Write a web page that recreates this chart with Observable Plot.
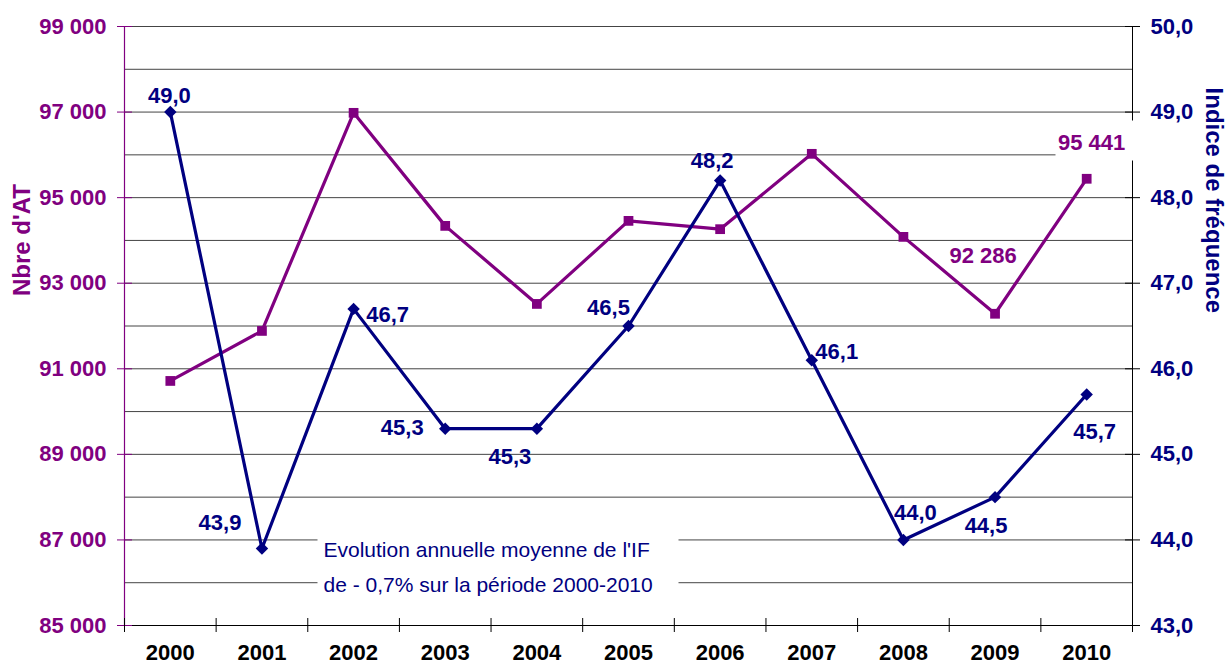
<!DOCTYPE html>
<html>
<head>
<meta charset="utf-8">
<script src="https://cdn.jsdelivr.net/npm/d3@7"></script>
<script src="https://cdn.jsdelivr.net/npm/@observablehq/plot@0.6"></script>
<style>
  html, body { margin: 0; padding: 0; background: #ffffff; }
  #chart svg { display: block; }
</style>
</head>
<body>
<div id="chart"></div>
<script>
// ---- Data ----
const years = [2000, 2001, 2002, 2003, 2004, 2005, 2006, 2007, 2008, 2009, 2010];
const nbreAT = [90716, 91885, 96982, 94340, 92516, 94457, 94263, 96024, 94083, 92286, 95441];
const indiceFrequence = [49.0, 43.9, 46.7, 45.3, 45.3, 46.5, 48.2, 46.1, 44.0, 44.5, 45.7];
const leftTicks = [85000, 87000, 89000, 91000, 93000, 95000, 97000, 99000];
const rightTicks = [43, 44, 45, 46, 47, 48, 49, 50];
const labelledATYears = [2009, 2010];
const noteLines = ["Evolution annuelle moyenne de l'IF", "de - 0,7% sur la période 2000-2010"];
const leftTitle = "Nbre d'AT";
const rightTitle = "Indice de fréquence";

// ---- Layout / style ----
const W = 1227, H = 666;
const mL = 124, mR = 95, mT = 26, mB = 41;
const plotW = W - mL - mR, plotH = H - mT - mB;
const PURPLE = "#800080", NAVY = "#000080";
const FONT = "'Liberation Sans', Arial, sans-serif";
const LBL = 22;

const leftDomain = [leftTicks[0], leftTicks[leftTicks.length - 1]];
const rightDomain = [rightTicks[0], rightTicks[rightTicks.length - 1]];
const toLeft = v => leftDomain[0] + (v - rightDomain[0]) * (leftDomain[1] - leftDomain[0]) / (rightDomain[1] - rightDomain[0]);
const fromLeft = v => rightDomain[0] + (v - leftDomain[0]) * (rightDomain[1] - rightDomain[0]) / (leftDomain[1] - leftDomain[0]);
const fmtAT = v => d3.format(",")(Math.round(v)).replace(/,/g, " ");
const fmtIF = v => v.toFixed(1).replace(".", ",");

const xDomain = [years[0] - 0.5, years[years.length - 1] + 0.5];
const boundaries = d3.range(xDomain[0], xDomain[1] + 0.01, 1);
const gridValues = d3.range(leftDomain[0] + 1000, leftDomain[1] + 1, 1000);

const data = years.map((y, i) => ({year: y, at: nbreAT[i], ifr: indiceFrequence[i]}));

// label offsets (pixels) relative to each point
const navyOffsets = [[-1,-16],[-42,-26],[34,6],[-43,-1],[-27,28],[-20,-18],[-8,-20],[25,-8],[12,-27],[-9,29],[8,37]];
const purpleOffsets = {2009: [-12,-58], 2010: [5,-36]};

const marks = [];
// gridlines
marks.push(Plot.ruleY(gridValues, {stroke: "#444", strokeWidth: 1}));
// axis lines
marks.push(Plot.ruleY([leftDomain[0]], {stroke: "#000", strokeWidth: 1}));
marks.push(Plot.ruleX([xDomain[1]], {stroke: "#000", strokeWidth: 1}));
marks.push(Plot.ruleX([xDomain[0]], {stroke: PURPLE, strokeWidth: 1.2}));
// ticks (crossing)
marks.push(Plot.tickY(leftTicks, {y: d => d, stroke: PURPLE, insetLeft: -7, insetRight: plotW - 8}));
marks.push(Plot.tickY(leftTicks, {y: d => d, stroke: "#000", insetLeft: plotW - 7, insetRight: -8}));
marks.push(Plot.tickX(boundaries, {x: d => d, stroke: "#000", insetTop: plotH - 7, insetBottom: -7}));
// axes text
marks.push(Plot.axisY(leftTicks, {anchor: "left", tickSize: 0, tickPadding: 18, tickFormat: fmtAT,
  fill: PURPLE, fontSize: LBL, fontWeight: "bold", fontFamily: FONT, label: null}));
marks.push(Plot.axisY(rightTicks.map(toLeft), {anchor: "right", tickSize: 0, tickPadding: 18, tickFormat: v => fmtIF(fromLeft(v)),
  fill: NAVY, fontSize: LBL, fontWeight: "bold", fontFamily: FONT, label: null}));
marks.push(Plot.axisX(years, {anchor: "bottom", tickSize: 0, tickPadding: 19, tickFormat: d => String(d),
  fill: "#000", fontSize: LBL, fontWeight: "bold", fontFamily: FONT, label: null}));
// axis titles
marks.push(Plot.text([leftTitle], {frameAnchor: "left", dx: -102, dy: -30, rotate: -90, fill: PURPLE,
  fontSize: 24, fontWeight: "bold", fontFamily: FONT}));
marks.push(Plot.text([rightTitle], {frameAnchor: "right", dx: 81, dy: -13, rotate: 90, fill: NAVY,
  fontSize: 24, fontWeight: "bold", fontFamily: FONT}));
// note box
marks.push(Plot.frame({fill: "white", stroke: "none", insetLeft: 193, insetRight: 454, insetTop: 498, insetBottom: 33}));
marks.push(Plot.text([noteLines.join("\n")], {frameAnchor: "top-left", dx: 199, dy: 506, textAnchor: "start", lineAnchor: "top",
  lineHeight: 1.667, fill: NAVY, fontSize: 21, fontFamily: FONT}));
// white box behind last AT label
marks.push(Plot.frame({fill: "white", stroke: "none", insetLeft: 931, insetRight: -1.5, insetTop: 94, insetBottom: 465}));
// series
marks.push(Plot.line(data, {x: "year", y: "at", stroke: PURPLE, strokeWidth: 3.2}));
marks.push(Plot.line(data, {x: "year", y: d => toLeft(d.ifr), stroke: NAVY, strokeWidth: 3.2}));
marks.push(Plot.dot(data, {x: "year", y: "at", symbol: "square", r: 5.5, fill: PURPLE, stroke: "none"}));
marks.push(Plot.dot(data, {x: "year", y: d => toLeft(d.ifr), symbol: "diamond2", r: 5.6, fill: NAVY, stroke: "none"}));
// labels
data.forEach((d, i) => {
  const [dx, dy] = navyOffsets[i];
  marks.push(Plot.text([d], {x: "year", y: e => toLeft(e.ifr), text: e => fmtIF(e.ifr), dx, dy,
    fill: NAVY, fontSize: LBL, fontWeight: "bold", fontFamily: FONT}));
});
data.filter(d => labelledATYears.includes(d.year)).forEach(d => {
  const [dx, dy] = purpleOffsets[d.year];
  marks.push(Plot.text([d], {x: "year", y: "at", text: e => fmtAT(e.at), dx, dy,
    fill: PURPLE, fontSize: LBL, fontWeight: "bold", fontFamily: FONT}));
});

const chart = Plot.plot({
  width: W, height: H,
  marginLeft: mL, marginRight: mR, marginTop: mT, marginBottom: mB,
  style: {fontFamily: FONT, background: "#ffffff", overflow: "visible"},
  x: {type: "linear", domain: xDomain},
  y: {type: "linear", domain: leftDomain},
  marks
});
document.getElementById("chart").appendChild(chart);
</script>
</body>
</html>
